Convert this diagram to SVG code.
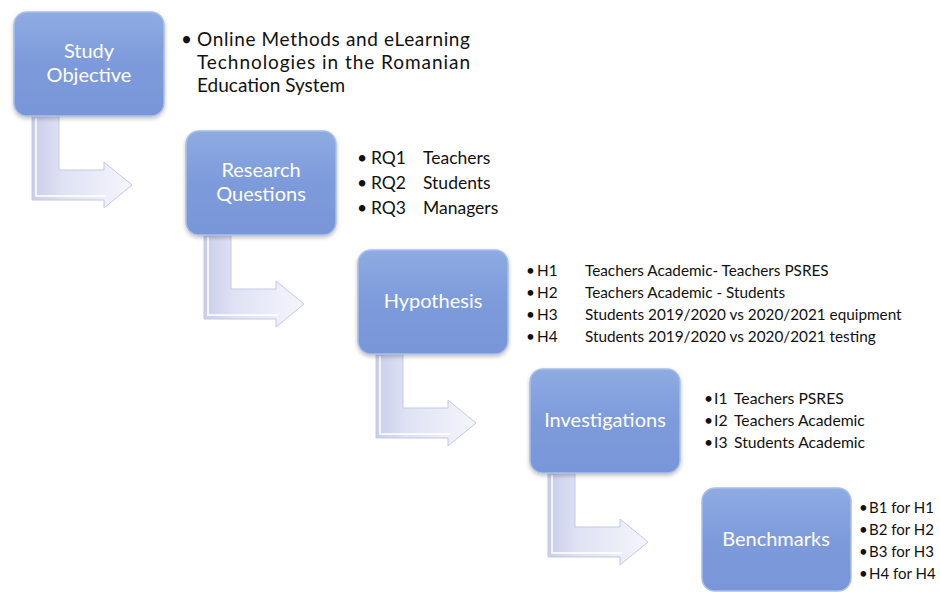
<svg xmlns="http://www.w3.org/2000/svg" width="940" height="592" viewBox="0 0 940 592">
<defs>
<linearGradient id="boxg" x1="0" y1="0" x2="0" y2="1">
<stop offset="0" stop-color="#8eabe2"/>
<stop offset="0.5" stop-color="#7d9bdb"/>
<stop offset="1" stop-color="#7896d8"/>
</linearGradient>
<linearGradient id="arrg" x1="0" y1="0" x2="1" y2="0">
<stop offset="0" stop-color="#c9cde9"/>
<stop offset="0.3" stop-color="#dfe2f4"/>
<stop offset="1" stop-color="#f4f5fc"/>
</linearGradient>
<filter id="sh" x="-10%" y="-10%" width="120%" height="125%">
<feGaussianBlur in="SourceAlpha" stdDeviation="2"/>
<feOffset dy="2"/>
<feComponentTransfer><feFuncA type="linear" slope="0.25"/></feComponentTransfer>
<feMerge><feMergeNode/><feMergeNode in="SourceGraphic"/></feMerge>
</filter>
<path id="arrow" d="M18,104 H45 V158 H90 V150 L118,173 L90,196 V188 H18 Z"/>
</defs>
<style>
.box{fill:url(#boxg);stroke:#a9bee9;stroke-width:1.5}
.lbl{font-family:Lato,"Open Sans","Liberation Sans",sans-serif;font-size:20px;fill:#ffffff;text-anchor:middle}
.txt{font-family:Lato,"Open Sans","Liberation Sans",sans-serif;fill:#111111}
.arr{fill:url(#arrg);stroke:#c3c8e6;stroke-width:1}
.hl{fill:none;stroke:#ffffff;stroke-width:2;opacity:0.8}
</style>
<g id="connectors">
<g transform="translate(14,12)"><use href="#arrow" class="arr"/><path class="hl" d="M22,106 V184 H92"/></g>
<g transform="translate(186,131)"><use href="#arrow" class="arr"/><path class="hl" d="M22,106 V184 H92"/></g>
<g transform="translate(358,250)"><use href="#arrow" class="arr"/><path class="hl" d="M22,106 V184 H92"/></g>
<g transform="translate(530,369)"><use href="#arrow" class="arr"/><path class="hl" d="M22,106 V184 H92"/></g>
</g>
<g id="study-objective">
<rect class="box" x="14" y="12" width="150" height="104" rx="13" filter="url(#sh)"/>
<text class="lbl" x="89" y="58">Study</text>
<text class="lbl" x="89" y="82">Objective</text>
<g class="txt" font-size="19">
<text x="181" y="46">•</text>
<text x="197" y="46" textLength="273" lengthAdjust="spacing">Online Methods and eLearning</text>
<text x="197" y="69" textLength="273" lengthAdjust="spacing">Technologies in the Romanian</text>
<text x="197" y="92">Education System</text>
</g>
</g>
<g id="research-questions">
<rect class="box" x="186" y="131" width="150" height="104" rx="13" filter="url(#sh)"/>
<text class="lbl" x="261" y="177">Research</text>
<text class="lbl" x="261" y="201">Questions</text>
<g class="txt" font-size="17.5">
<text x="357" y="164">•</text><text x="371" y="164">RQ1</text><text x="423" y="164">Teachers</text>
<text x="357" y="189">•</text><text x="371" y="189">RQ2</text><text x="423" y="189">Students</text>
<text x="357" y="214">•</text><text x="371" y="214">RQ3</text><text x="423" y="214">Managers</text>
</g>
</g>
<g id="hypothesis">
<rect class="box" x="358" y="250" width="150" height="104" rx="13" filter="url(#sh)"/>
<text class="lbl" x="433" y="308">Hypothesis</text>
<g class="txt" font-size="15.3">
<text x="526" y="276">•</text><text x="537" y="276">H1</text><text x="585" y="276">Teachers Academic- Teachers PSRES</text>
<text x="526" y="298">•</text><text x="537" y="298">H2</text><text x="585" y="298">Teachers Academic - Students</text>
<text x="526" y="320">•</text><text x="537" y="320">H3</text><text x="585" y="320">Students 2019/2020 vs 2020/2021 equipment</text>
<text x="526" y="342">•</text><text x="537" y="342">H4</text><text x="585" y="342">Students 2019/2020 vs 2020/2021 testing</text>
</g>
</g>
<g id="investigations">
<rect class="box" x="530" y="369" width="150" height="104" rx="13" filter="url(#sh)"/>
<text class="lbl" x="605" y="427">Investigations</text>
<g class="txt" font-size="15.7">
<text x="704" y="404">•</text><text x="714" y="404">I1</text><text x="734" y="404">Teachers PSRES</text>
<text x="704" y="426">•</text><text x="714" y="426">I2</text><text x="734" y="426">Teachers Academic</text>
<text x="704" y="448">•</text><text x="714" y="448">I3</text><text x="734" y="448">Students Academic</text>
</g>
</g>
<g id="benchmarks">
<rect class="box" x="702" y="488" width="149" height="103" rx="13"/>
<text class="lbl" x="776" y="546">Benchmarks</text>
<g class="txt" font-size="15">
<text x="859" y="513">•</text><text x="869" y="513">B1 for H1</text>
<text x="859" y="535">•</text><text x="869" y="535">B2 for H2</text>
<text x="859" y="557">•</text><text x="869" y="557">B3 for H3</text>
<text x="859" y="579">•</text><text x="869" y="579">H4 for H4</text>
</g>
</g>
</svg>
